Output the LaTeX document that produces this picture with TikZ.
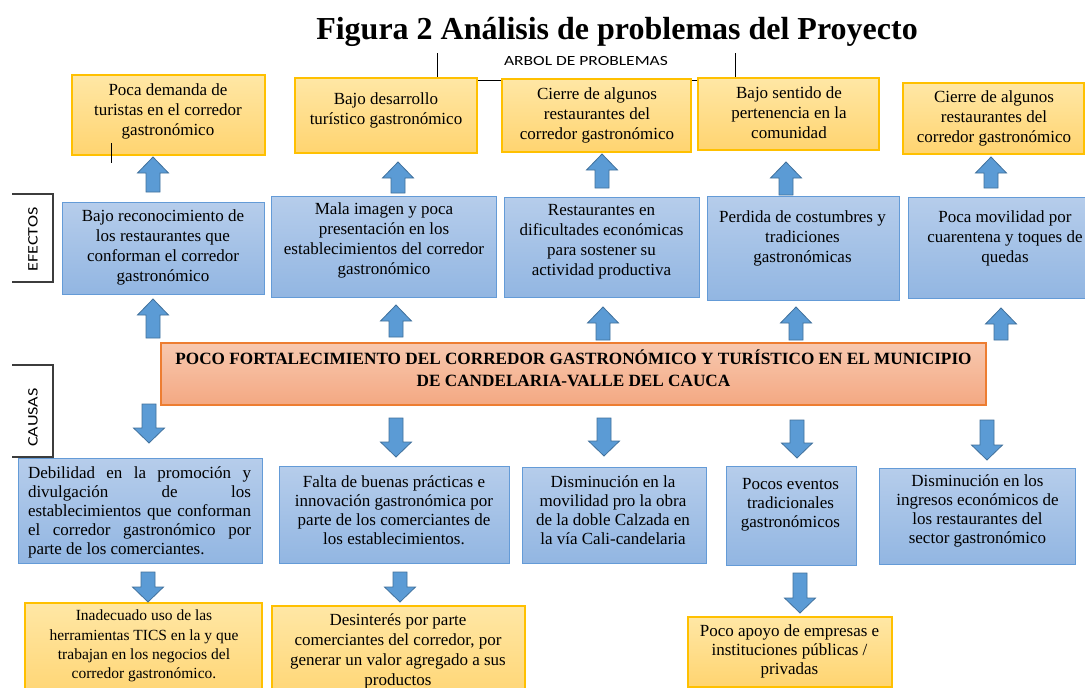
\documentclass[tikz,border=0pt]{standalone}
\usepackage{fontspec}
\setmainfont{Liberation Serif}
\newfontfamily\calibw[FakeStretch=1.25]{Carlito}
\definecolor{bluetop}{RGB}{182,205,235}
\definecolor{bluebot}{RGB}{146,182,226}
\definecolor{blueedge}{RGB}{100,155,215}
\definecolor{yeltop}{RGB}{255,231,165}
\definecolor{yelbot}{RGB}{255,212,112}
\definecolor{yeledge}{RGB}{255,192,0}
\definecolor{redtop}{RGB}{247,200,175}
\definecolor{redbot}{RGB}{244,168,130}
\definecolor{rededge}{RGB}{237,125,49}
\definecolor{arrfill}{RGB}{91,155,213}
\definecolor{arredge}{RGB}{65,113,156}
\definecolor{lblline}{RGB}{60,60,60}
\newcommand{\upblk}[4]{\draw[blockarr] ({#2-7},{#4}) -- ({#2-7},{#3+16}) -- ({#2-15.5},{#3+16}) -- (#2,#3) -- ({#2+15.5},{#3+16}) -- ({#2+7},{#3+16}) -- ({#2+7},{#4}) -- cycle; \coordinate (#1) at (#2,#3);}
\newcommand{\downblk}[4]{\draw[blockarr] ({#2-7},{#3}) -- ({#2-7},{#4-15}) -- ({#2-15.5},{#4-15}) -- (#2,#4) -- ({#2+15.5},{#4-15}) -- ({#2+7},{#4-15}) -- ({#2+7},{#3}) -- cycle; \coordinate (#1) at (#2,#4);}
\begin{document}
\begin{tikzpicture}[x=1pt,y=-1pt,
  bbox/.style={rectangle, draw=blueedge, line width=1pt, top color=bluetop, bottom color=bluebot, inner sep=0pt},
  ybox/.style={rectangle, draw=yeledge, line width=1.2pt, top color=yeltop, bottom color=yelbot, inner sep=0pt},
  rbox/.style={rectangle, draw=rededge, line width=1.2pt, top color=redtop, bottom color=redbot, inner sep=0pt},
  txt/.style={align=center, inner sep=0pt, font=\fontsize{17}{20}\selectfont},
  txtc/.style={align=center, inner sep=0pt, font=\fontsize{17}{19}\selectfont},
  blockarr/.style={fill=arrfill, draw=arredge, line width=0.8pt, line join=miter},
  lbl/.style={inner sep=0pt, font=\calibw\fontsize{14.5}{16}\selectfont, rotate=90},
  brk/.style={draw=lblline, line width=1.1pt}]
\useasboundingbox (0,0) rectangle (1085,688);
\clip (0,0) rectangle (1085,688);
\fill[white] (0,0) rectangle (1085,688);
% title
\node[inner sep=0pt, font=\fontsize{32}{35}\selectfont\bfseries] (title) at (617,32) {Figura 2 Análisis de problemas del Proyecto};
\node[inner sep=0pt, font=\calibw\fontsize{14}{16}\selectfont] (arbol) at (586,61) {ARBOL DE PROBLEMAS};
\coordinate (bl) at (437,53);
\coordinate (br) at (735,53);
\draw[line width=1pt] (bl) -- (437,80) -- (735,80) -- (br);
% top effects (yellow)
\node[ybox, minimum width=193pt, minimum height=80pt] (t1) at (168.5,115) {};
\node[txt] (t1t) at (168,111) {Poca demanda de\\turistas en el corredor\\gastronómico};
\node[ybox, minimum width=182pt, minimum height=75pt] (t2) at (386,115.5) {};
\node[txt] (t2t) at (386,110) {Bajo desarrollo\\turístico gastronómico};
\node[ybox, minimum width=189pt, minimum height=73pt] (t3) at (596.5,115.5) {};
\node[txt] (t3t) at (597,115) {Cierre de algunos\\restaurantes del\\corredor gastronómico};
\node[ybox, minimum width=181pt, minimum height=72pt] (t4) at (788.5,114) {};
\node[txt] (t4t) at (789,113) {Bajo sentido de\\pertenencia en la\\comunidad};
\node[ybox, minimum width=181pt, minimum height=71pt] (t5) at (993.5,118.5) {};
\node[txt] (t5t) at (994,118) {Cierre de algunos\\restaurantes del\\corredor gastronómico};
\draw[line width=1pt] (111,143) -- (111,163);
% effects (blue)
\node[bbox, minimum width=202pt, minimum height=92pt] (e1) at (163,248) {};
\node[txt] (e1t) at (163,247.5) {Bajo reconocimiento de\\los restaurantes que\\conforman el corredor\\gastronómico};
\node[bbox, minimum width=225pt, minimum height=101pt] (e2) at (383.5,246.5) {};
\node[txt] (e2t) at (384,240.5) {Mala imagen y poca\\presentación en los\\establecimientos del corredor\\gastronómico};
\node[bbox, minimum width=195pt, minimum height=100pt] (e3) at (601.5,247) {};
\node[txt] (e3t) at (601.5,242) {Restaurantes en\\dificultades económicas\\para sostener su\\actividad productiva};
\node[bbox, minimum width=192pt, minimum height=104pt] (e4) at (803,248) {};
\node[txt] (e4t) at (802.5,238.5) {Perdida de costumbres y\\tradiciones\\gastronómicas};
\node[bbox, minimum width=190pt, minimum height=101pt] (e5) at (1003,247.5) {};
\node[txt] (e5t) at (1005,238.5) {Poca movilidad por\\cuarentena y toques de\\quedas};
% central problem
\node[rbox, minimum width=825pt, minimum height=62pt] (cp) at (573.5,374) {};
\node[align=center, inner sep=0pt, font=\fontsize{17.2}{22}\selectfont\bfseries] (cpt) at (573.5,368.5) {POCO FORTALECIMIENTO DEL CORREDOR GASTRONÓMICO Y TURÍSTICO EN EL MUNICIPIO\\DE CANDELARIA-VALLE DEL CAUCA};
% causes (blue)
\node[bbox, minimum width=244pt, minimum height=105pt] (c1) at (140,510.5) {};
\node[inner sep=0pt, text width=223pt, align=justify, font=\fontsize{17}{19}\selectfont] (c1t) at (139.5,512.5) {\hyphenpenalty=10000 Debilidad en la promoción y\linebreak divulgación de los\linebreak establecimientos que conforman\linebreak el corredor gastronómico por\linebreak parte de los comerciantes.};
\node[bbox, minimum width=230pt, minimum height=97pt] (c2) at (394,514.5) {};
\node[txtc] (c2t) at (394,510) {Falta de buenas prácticas e\\innovación gastronómica por\\parte de los comerciantes de\\los establecimientos.};
\node[bbox, minimum width=184pt, minimum height=96pt] (c3) at (614,515) {};
\node[txtc] (c3t) at (613,510) {Disminución en la\\movilidad pro la obra\\de la doble Calzada en\\la vía Cali-candelaria};
\node[bbox, minimum width=130pt, minimum height=99pt] (c4) at (791,515.5) {};
\node[txtc] (c4t) at (790.5,505) {Pocos eventos\\tradicionales\\gastronómicos};
\node[bbox, minimum width=196pt, minimum height=96pt] (c5) at (977,516) {};
\node[txtc] (c5t) at (977.5,511) {Disminución en los\\ingresos económicos de\\los restaurantes del\\sector gastronómico};
% bottom (yellow)
\node[ybox, minimum width=237pt, minimum height=100pt] (b1) at (143.5,653) {};
\node[align=center, inner sep=0pt, font=\fontsize{15.5}{19.3}\selectfont] (b1t) at (144,646) {Inadecuado uso de las\\herramientas TICS en la y que\\trabajan en los negocios del\\corredor gastronómico.};
\node[ybox, minimum width=253pt, minimum height=100pt] (b2) at (398.5,656) {};
\node[txt] (b2t) at (398,651.5) {Desinterés por parte\\comerciantes del corredor, por\\generar un valor agregado a sus\\productos};
\node[ybox, minimum width=204pt, minimum height=70pt] (b3) at (790,652) {};
\node[txtc] (b3t) at (789.5,651) {Poco apoyo de empresas e\\instituciones públicas /\\privadas};
% side labels
\draw[brk] (12,194) -- (53,194) -- (53,282) -- (12,282);
\node[lbl] (efectos) at (33,239.5) {EFECTOS};
\draw[brk] (12,365) -- (53,365) -- (53,457) -- (12,457);
\node[lbl] (causas) at (33,417.5) {CAUSAS};
% arrows: effects -> top
\upblk{a1}{153}{157}{192}
\upblk{a2}{398}{162}{193}
\upblk{a3}{602}{154}{188}
\upblk{a4}{786}{162}{195}
\upblk{a5}{991}{157}{188}
% arrows: central -> effects
\upblk{u1}{153}{299}{338}
\upblk{u2}{396}{305}{337}
\upblk{u3}{603}{307}{340}
\upblk{u4}{796}{307}{340}
\upblk{u5}{1001}{308}{340}
% arrows: central -> causes
\downblk{d1}{149}{404}{443}
\downblk{d2}{396}{418}{457}
\downblk{d3}{604}{418}{456}
\downblk{d4}{797}{420}{458}
\downblk{d5}{987}{420}{460}
% arrows: causes -> bottom
\downblk{f1}{148}{572}{602}
\downblk{f2}{400}{572}{602}
\downblk{f3}{800}{573}{613}
\end{tikzpicture}
\end{document}
